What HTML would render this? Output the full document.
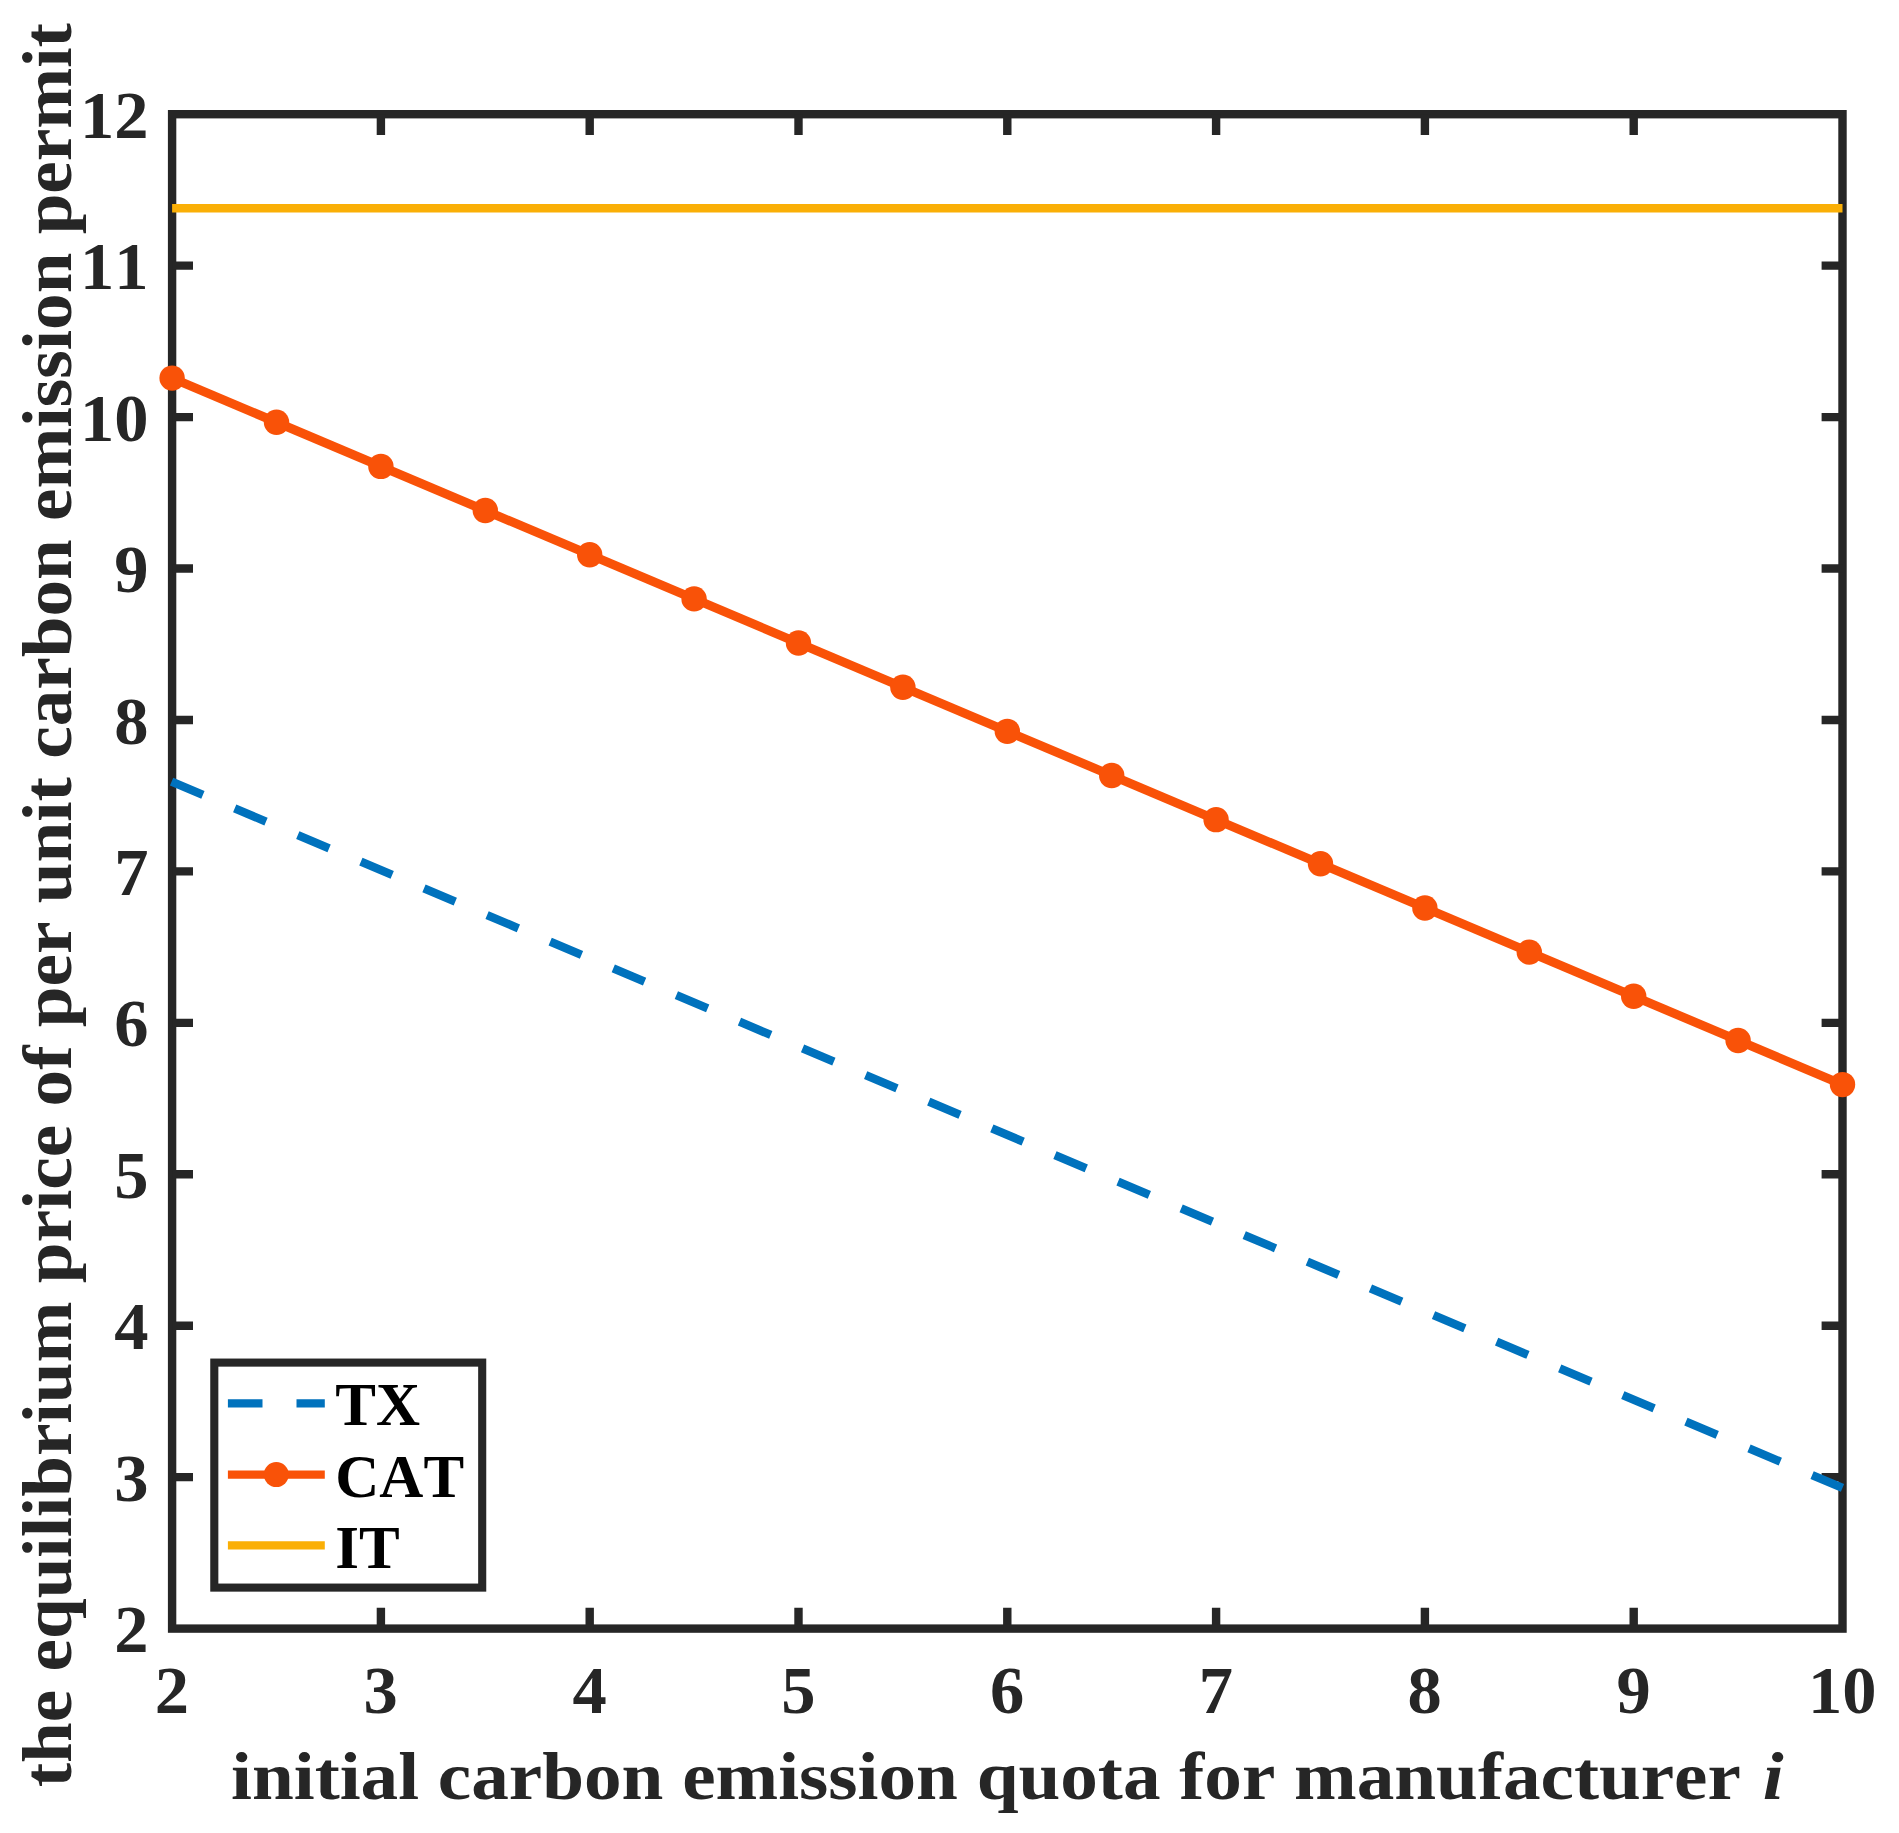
<!DOCTYPE html>
<html lang="en"><head><meta charset="utf-8"><title>Equilibrium price of per unit carbon emission permit</title>
<style>
html,body{margin:0;padding:0;background:#fff;}
body{width:1899px;height:1833px;overflow:hidden;}
svg{display:block;}
text{font-family:"Liberation Serif","Times New Roman",Times,serif;font-weight:bold;fill:#262626;font-kerning:none;}
.tk{font-size:68.5px;}
.lg{font-size:61px;fill:#000;}
</style></head><body>
<svg width="1899" height="1833" viewBox="0 0 1899 1833">
<rect x="0" y="0" width="1899" height="1833" fill="#fff"/>

<g stroke="#262626" stroke-width="8.4" fill="none">
<rect x="172.1" y="114.2" width="1670.4" height="1514.3999999999999"/>
<path d="M380.90 1628.6V1607.70M380.90 114.2V135.10M589.70 1628.6V1607.70M589.70 114.2V135.10M798.50 1628.6V1607.70M798.50 114.2V135.10M1007.30 1628.6V1607.70M1007.30 114.2V135.10M1216.10 1628.6V1607.70M1216.10 114.2V135.10M1424.90 1628.6V1607.70M1424.90 114.2V135.10M1633.70 1628.6V1607.70M1633.70 114.2V135.10M172.1 1477.16H193.00M1842.5 1477.16H1821.60M172.1 1325.72H193.00M1842.5 1325.72H1821.60M172.1 1174.28H193.00M1842.5 1174.28H1821.60M172.1 1022.84H193.00M1842.5 1022.84H1821.60M172.1 871.40H193.00M1842.5 871.40H1821.60M172.1 719.96H193.00M1842.5 719.96H1821.60M172.1 568.52H193.00M1842.5 568.52H1821.60M172.1 417.08H193.00M1842.5 417.08H1821.60M172.1 265.64H193.00M1842.5 265.64H1821.60"/>
</g>
<line x1="172.1" y1="208.2" x2="1842.5" y2="208.2" stroke="#FAAF06" stroke-width="8.4"/>
<line x1="171.6" y1="781.7" x2="1842.5" y2="1487.9" stroke="#0072BD" stroke-width="8.4" stroke-dasharray="34 34.5"/>
<line x1="172.1" y1="378.1" x2="1842.5" y2="1084.6" stroke="#F95208" stroke-width="9.0"/>
<g fill="#F95208">
<circle cx="172.10" cy="378.10" r="12.7"/>
<circle cx="276.50" cy="422.26" r="12.7"/>
<circle cx="380.90" cy="466.41" r="12.7"/>
<circle cx="485.30" cy="510.57" r="12.7"/>
<circle cx="589.70" cy="554.73" r="12.7"/>
<circle cx="694.10" cy="598.88" r="12.7"/>
<circle cx="798.50" cy="643.04" r="12.7"/>
<circle cx="902.90" cy="687.19" r="12.7"/>
<circle cx="1007.30" cy="731.35" r="12.7"/>
<circle cx="1111.70" cy="775.51" r="12.7"/>
<circle cx="1216.10" cy="819.66" r="12.7"/>
<circle cx="1320.50" cy="863.82" r="12.7"/>
<circle cx="1424.90" cy="907.97" r="12.7"/>
<circle cx="1529.30" cy="952.13" r="12.7"/>
<circle cx="1633.70" cy="996.29" r="12.7"/>
<circle cx="1738.10" cy="1040.44" r="12.7"/>
<circle cx="1842.50" cy="1084.60" r="12.7"/>
</g>
<text class="tk" x="148.4" y="1652.2" text-anchor="end">2</text>
<text class="tk" x="148.4" y="1500.8" text-anchor="end">3</text>
<text class="tk" x="148.4" y="1349.3" text-anchor="end">4</text>
<text class="tk" x="148.4" y="1197.9" text-anchor="end">5</text>
<text class="tk" x="148.4" y="1046.4" text-anchor="end">6</text>
<text class="tk" x="148.4" y="895.0" text-anchor="end">7</text>
<text class="tk" x="148.4" y="743.6" text-anchor="end">8</text>
<text class="tk" x="148.4" y="592.1" text-anchor="end">9</text>
<text class="tk" x="148.4" y="440.7" text-anchor="end">10</text>
<text class="tk" x="148.4" y="289.2" text-anchor="end">11</text>
<text class="tk" x="148.4" y="137.8" text-anchor="end">12</text>
<text class="tk" x="171.9" y="1712.6" text-anchor="middle">2</text>
<text class="tk" x="380.7" y="1712.6" text-anchor="middle">3</text>
<text class="tk" x="589.5" y="1712.6" text-anchor="middle">4</text>
<text class="tk" x="798.3" y="1712.6" text-anchor="middle">5</text>
<text class="tk" x="1007.1" y="1712.6" text-anchor="middle">6</text>
<text class="tk" x="1215.9" y="1712.6" text-anchor="middle">7</text>
<text class="tk" x="1424.7" y="1712.6" text-anchor="middle">8</text>
<text class="tk" x="1633.5" y="1712.6" text-anchor="middle">9</text>
<text class="tk" x="1842.3" y="1712.6" text-anchor="middle">10</text>
<text transform="translate(1007.3 1798.9) scale(1 0.91)" text-anchor="middle" font-size="75.2" xml:space="preserve">initial carbon emission quota for manufacturer <tspan font-style="italic" dx="3">i</tspan></text>
<text transform="translate(71.3 905.2) rotate(-90) scale(1 0.947)" text-anchor="middle" font-size="73.2">the equilibrium price of per unit carbon emission permit</text>
<rect x="214.3" y="1362.6" width="267.9" height="225.0" fill="#fff" stroke="#262626" stroke-width="8.1"/>
<line x1="227.9" y1="1403.4" x2="324.8" y2="1403.4" stroke="#0072BD" stroke-width="8.4" stroke-dasharray="34.6 34"/>
<line x1="227.9" y1="1474.6" x2="324.8" y2="1474.6" stroke="#F95208" stroke-width="8.4"/>
<circle cx="276.3" cy="1474.6" r="12.5" fill="#F95208"/>
<line x1="227.9" y1="1545.4" x2="324.8" y2="1545.4" stroke="#FAAF06" stroke-width="8.4"/>
<text class="lg" x="335.3" y="1425.1">TX</text>
<text class="lg" x="335.3" y="1496.7">CAT</text>
<text class="lg" x="335.3" y="1567.5">IT</text>
</svg>
</body></html>
